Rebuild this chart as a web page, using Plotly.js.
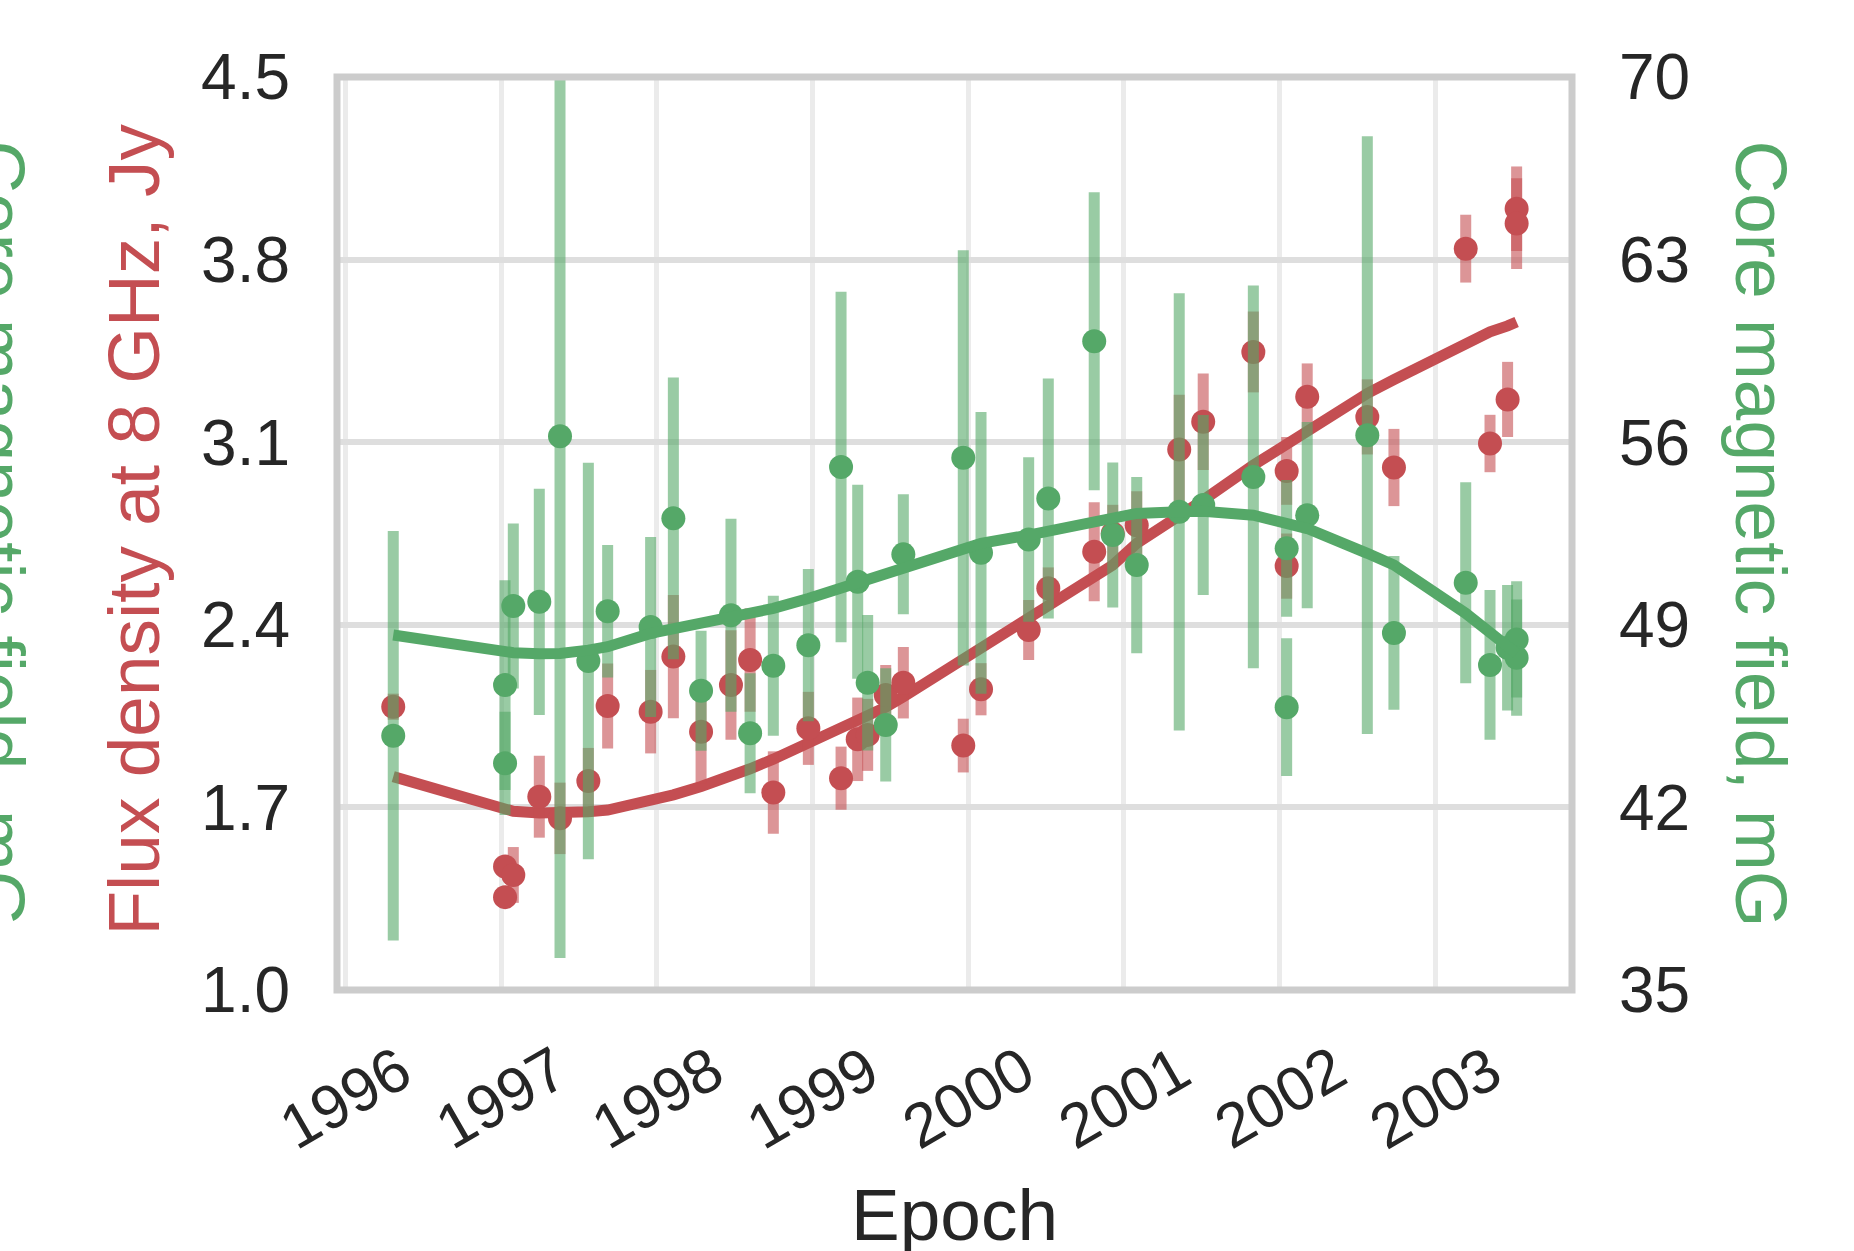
<!DOCTYPE html>
<html>
<head>
<meta charset="utf-8">
<script src="https://cdn.plot.ly/plotly-3.0.1.min.js"></script>
<style>
html,body{margin:0;padding:0;background:#ffffff;}
#chart{width:1854px;height:1251px;}
</style>
</head>
<body>
<div id="chart"></div>
<script>
// Observation epochs (decimal years)
const epochs = [1996.308, 1997.026, 1997.026, 1997.079, 1997.246, 1997.379, 1997.561, 1997.685, 1997.961, 1998.107,
                1998.285, 1998.477, 1998.600, 1998.749, 1998.974, 1999.184, 1999.291, 1999.355, 1999.471, 1999.584,
                1999.969, 2000.083, 2000.389, 2000.515, 2000.810, 2000.929, 2001.083, 2001.356, 2001.510, 2001.832,
                2002.046, 2002.046, 2002.178, 2002.564, 2002.735, 2003.196, 2003.352, 2003.465, 2003.523, 2003.523];

// Flux density at 8 GHz (Jy)
const fluxJy = [2.086, 1.473, 1.356, 1.441, 1.741, 1.658, 1.801, 2.089, 2.067, 2.278,
                1.990, 2.169, 2.265, 1.757, 2.003, 1.812, 1.961, 1.978, 2.131, 2.178,
                1.937, 2.153, 2.380, 2.540, 2.680, 2.750, 2.782, 3.072, 3.178, 3.446,
                2.990, 2.625, 3.274, 3.197, 3.003, 3.842, 3.095, 3.264, 3.995, 3.938];
const fluxErr = [0.05, 0.03, 0.03, 0.107, 0.157, 0.137, 0.127, 0.163, 0.16, 0.236,
                 0.198, 0.21, 0.198, 0.158, 0.14, 0.121, 0.16, 0.138, 0.115, 0.137,
                 0.103, 0.10, 0.115, 0.08, 0.19, 0.11, 0.13, 0.21, 0.185, 0.155,
                 0.13, 0.125, 0.128, 0.144, 0.148, 0.13, 0.11, 0.144, 0.162, 0.174];
const fluxFit = [1.818, 1.688, 1.688, 1.685, 1.679, 1.678, 1.683, 1.690, 1.722, 1.748,
                 1.780, 1.815, 1.848, 1.885, 1.945, 2.000, 2.035, 2.050, 2.084, 2.124,
                 2.269, 2.310, 2.418, 2.463, 2.578, 2.629, 2.712, 2.814, 2.878, 3.012,
                 3.095, 3.095, 3.146, 3.287, 3.340, 3.484, 3.523, 3.546, 3.561, 3.561];

// Core magnetic field (mG)
const fieldMG = [44.75, 46.69, 43.69, 49.72, 49.88, 56.23, 47.61, 49.52, 48.92, 53.08,
                 46.47, 49.37, 44.84, 47.43, 48.22, 55.05, 50.65, 46.78, 45.16, 51.70,
                 55.40, 51.76, 52.27, 53.84, 59.87, 52.44, 51.29, 53.33, 53.59, 54.67,
                 51.93, 45.84, 53.20, 56.27, 48.69, 50.61, 47.46, 48.12, 48.44, 47.74];
const fieldErr = [7.85, 4.02, 1.98, 3.16, 4.34, 20.0, 7.6, 2.54, 3.45, 5.4,
                  2.3, 3.7, 2.3, 2.68, 2.92, 6.72, 3.72, 2.6, 2.17, 2.3,
                  7.96, 5.4, 3.15, 4.6, 5.71, 2.78, 3.38, 8.38, 3.45, 7.34,
                  2.62, 2.64, 3.57, 11.46, 2.95, 3.85, 2.87, 2.41, 2.23, 2.23];
const fieldFit = [48.61, 47.96, 47.96, 47.93, 47.89, 47.90, 48.03, 48.16, 48.67, 48.85,
                  49.03, 49.28, 49.42, 49.63, 50.01, 50.40, 50.65, 50.78, 51.00, 51.22,
                  51.93, 52.12, 52.44, 52.60, 53.01, 53.15, 53.27, 53.33, 53.35, 53.20,
                  52.89, 52.89, 52.69, 51.74, 51.29, 49.44, 48.67, 48.16, 47.90, 47.90];

// Tick labels
const yearTicks = [1996, 1997, 1998, 1999, 2000, 2001, 2002, 2003];
const fluxTicks = [1.0, 1.7, 2.4, 3.1, 3.8, 4.5];
const fieldTicks = [35, 42, 49, 56, 63, 70];

const RED = '#c44e52';
const GREEN = '#55a868';
const FONT = 'Liberation Sans, Arial, Helvetica, sans-serif';
const TXT = '#262626';

const traces = [
  {x: epochs, y: fluxFit, yaxis: 'y', type: 'scatter', mode: 'lines',
   line: {color: RED, width: 11}, hoverinfo: 'skip'},
  {x: epochs, y: fluxJy, yaxis: 'y', type: 'scatter', mode: 'markers',
   marker: {size: 24, color: RED, line: {width: 0}},
   error_y: {type: 'data', array: fluxErr, visible: true, thickness: 11, width: 0, color: 'rgba(196,78,82,0.6)'}},
  {x: epochs, y: fieldMG, yaxis: 'y2', type: 'scatter', mode: 'markers',
   marker: {size: 24, color: GREEN, line: {width: 0}},
   error_y: {type: 'data', array: fieldErr, visible: true, thickness: 11, width: 0, color: 'rgba(85,168,104,0.6)'}},
  {x: epochs, y: fieldFit, yaxis: 'y2', type: 'scatter', mode: 'lines',
   line: {color: GREEN, width: 11}, hoverinfo: 'skip'}
];

const annotations = yearTicks.map(yr => ({
  x: yr, xref: 'x', y: 0, yref: 'paper', yshift: -107,
  xanchor: 'center', yanchor: 'middle', text: String(yr), textangle: -30,
  showarrow: false, font: {family: FONT, size: 62, color: TXT}
}));
annotations.push(
  {x: 0.5, xref: 'paper', y: 0, yref: 'paper', yshift: -224, xanchor: 'center', yanchor: 'middle',
   text: 'Epoch', showarrow: false, font: {family: FONT, size: 73, color: TXT}},
  {x: 0, xref: 'paper', xshift: -204, y: 0.5, yref: 'paper', yshift: 4, xanchor: 'center', yanchor: 'middle',
   text: 'Flux density at 8 GHz, Jy', textangle: -90, showarrow: false, font: {family: FONT, size: 73, color: RED}},
  {x: 1, xref: 'paper', xshift: 189, y: 0.5, yref: 'paper', yshift: 0, xanchor: 'center', yanchor: 'middle',
   text: 'Core magnetic field, mG', textangle: 90, showarrow: false, font: {family: FONT, size: 73, color: GREEN}},
  {x: 0, xref: 'paper', xshift: -338, y: 0.5, yref: 'paper', yshift: 0, xanchor: 'center', yanchor: 'middle',
   text: 'Core magnetic field, mG', textangle: 90, showarrow: false, font: {family: FONT, size: 73, color: GREEN}}
);

const layout = {
  width: 1854, height: 1251,
  margin: {l: 337, r: 282, t: 77, b: 261, pad: 0},
  paper_bgcolor: '#ffffff', plot_bgcolor: '#ffffff',
  showlegend: false,
  font: {family: FONT, color: TXT},
  xaxis: {range: [1995.9467, 2003.8786], tickmode: 'array', tickvals: yearTicks, showticklabels: false,
          showgrid: true, gridcolor: '#ebebeb', gridwidth: 5, zeroline: false, showline: false, ticks: ''},
  yaxis: {range: [1.0, 4.5], tickmode: 'array', tickvals: fluxTicks, ticktext: fluxTicks.map(v => v.toFixed(1)),
          tickfont: {family: FONT, size: 64, color: TXT}, showgrid: true, gridcolor: '#dedede', gridwidth: 6,
          zeroline: false, showline: false, ticks: '', ticklabelstandoff: 46},
  yaxis2: {range: [35, 70], tickmode: 'array', tickvals: fieldTicks, ticktext: fieldTicks.map(String),
           overlaying: 'y', side: 'right', showgrid: false, zeroline: false, showline: false, ticks: '',
           tickfont: {family: FONT, size: 64, color: TXT}, ticklabelstandoff: 46},
  shapes: [{type: 'rect', xref: 'paper', yref: 'paper', x0: 0, x1: 1, y0: 0, y1: 1,
            line: {color: '#cccccc', width: 7}, fillcolor: 'rgba(0,0,0,0)', layer: 'above'}],
  annotations: annotations
};

Plotly.newPlot('chart', traces, layout, {staticPlot: true, displayModeBar: false});
</script>
</body>
</html>
